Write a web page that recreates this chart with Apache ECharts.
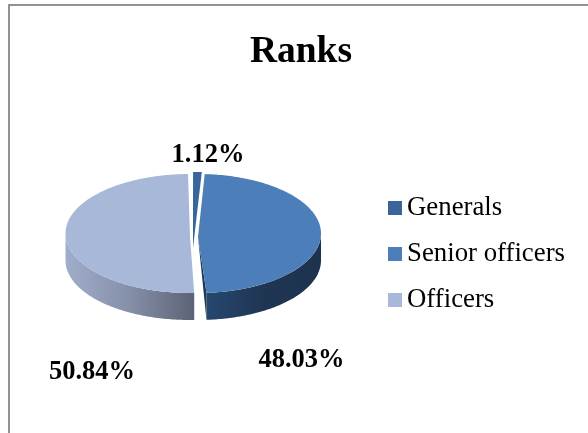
<!DOCTYPE html>
<html><head><meta charset="utf-8">
<style>html,body{margin:0;padding:0;background:#fff}#c{width:588px;height:433px}</style>
<script src="https://cdn.jsdelivr.net/npm/echarts@6/dist/echarts.min.js"></script>
</head><body><div id="c"></div>
<script>
const categories = ['Generals', 'Senior officers', 'Officers'];
const shares = [1.12, 48.03, 50.84];
const topColors = ['#37659c', '#4c7eba', '#a8b8d8'];
const wallStops = [
  ['#2a4e78', '#2a4e78'],
  ['#27476f', '#1f3653', '#1d324d'],
  ['#a0aecb', '#858fa8', '#5c6376']
];
// Exploded-slice layout: ellipse centre and radius, wedge tip, label centre, gap before slice (deg)
const layouts = [
  { cx: 195, cy: 231.5, rx: 124.5, tipX: 193, tipY: 248, labelX: 208, labelY: 155.5, pad: 0, cutFace: false },
  { cx: 198, cy: 233.5, rx: 123, tipX: 198, tipY: 237, labelX: 301.5, labelY: 360, pad: 0, cutFace: true },
  { cx: 190, cy: 233.5, rx: 124.5, tipX: 190, tipY: 237, labelX: 92, labelY: 372, pad: 2, cutFace: false }
];
const RY = 59.5, DEPTH = 27, START_DEG = -0.9;

const total = shares.reduce((a, b) => a + b, 0);
function pt(l, deg, dy) {
  const r = deg * Math.PI / 180;
  return [l.cx + l.rx * Math.sin(r), l.cy - RY * Math.cos(r) + (dy || 0)];
}
function arc(l, a, b, dy) {
  const pts = [];
  for (let d = a; d < b; d += 1) pts.push(pt(l, d, dy));
  pts.push(pt(l, b, dy));
  return pts;
}
function sliceItem(idx) {
  return function (params, api) {
    const value = api.value(0);
    const before = shares.slice(0, idx).reduce((a, b) => a + b, 0);
    const l = layouts[idx];
    const a0 = START_DEG + before / total * 360 + l.pad;
    const a1 = START_DEG + (before + value) / total * 360;
    const children = [];
    const w0 = Math.max(a0, 90), w1 = Math.min(a1, 270);
    const stops = wallStops[idx].map((c, i, arr) => ({ offset: i / Math.max(arr.length - 1, 1), color: c }));
    if (w1 > w0) {
      const upper = arc(l, w0, w1, 0);
      const lower = arc(l, w0, w1, DEPTH).reverse();
      children.push({
        type: 'polygon', shape: { points: upper.concat(lower) },
        style: { fill: { type: 'linear', x: 0, y: 0, x2: 1, y2: 0, colorStops: stops } }
      });
    }
    if (l.cutFace) {
      const e = pt(l, a1, 0);
      children.push({
        type: 'polygon',
        shape: { points: [[l.tipX, l.tipY], e, [e[0], e[1] + DEPTH]] },
        style: { fill: '#1f3755' }
      });
    }
    children.push({
      type: 'polygon',
      shape: { points: [[l.tipX, l.tipY]].concat(arc(l, a0, a1, 0)) },
      style: { fill: topColors[idx] }
    });
    children.push({
      type: 'text',
      style: {
        x: l.labelX, y: l.labelY, text: value.toFixed(2) + '%', fill: '#000',
        font: 'bold 26.5px "Liberation Serif"', align: 'center', verticalAlign: 'middle'
      }
    });
    return { type: 'group', children };
  };
}

const chart = echarts.init(document.getElementById('c'), null, { renderer: 'canvas' });
chart.setOption({
  animation: false,
  backgroundColor: '#fff',
  title: {
    text: 'Ranks', left: 296, top: 28, textAlign: 'center',
    textStyle: { fontFamily: 'Liberation Serif', fontWeight: 'bold', fontSize: 37.5, color: '#000' }
  },
  legend: {
    orient: 'vertical', left: 383, top: 188, itemWidth: 14, itemHeight: 14, itemGap: 16,
    icon: 'rect', data: categories,
    textStyle: { fontFamily: 'Liberation Serif', fontSize: 26.8, color: '#000', lineHeight: 30 }
  },
  graphic: [{
    type: 'polyline', silent: true,
    shape: { points: [[9, 433], [9, 5], [588, 5]] },
    style: { stroke: '#929292', lineWidth: 2, fill: null }
  }],
  series: [2, 1, 0].map(i => ({
    type: 'custom', name: categories[i], coordinateSystem: 'none',
    itemStyle: { color: topColors[i] }, silent: true,
    renderItem: sliceItem(i), data: [[shares[i]]]
  }))
});
</script></body></html>
